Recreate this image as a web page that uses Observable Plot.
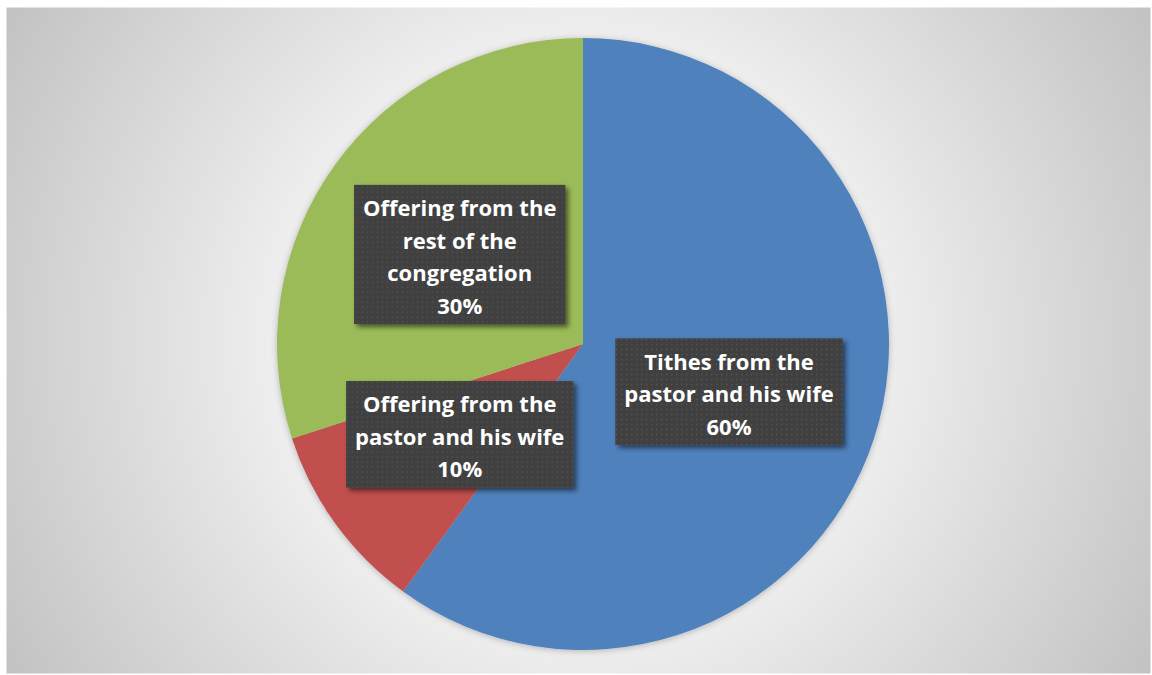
<!DOCTYPE html>
<html>
<head>
<meta charset="utf-8">
<script src="https://cdn.jsdelivr.net/npm/d3@7"></script>
<script src="https://cdn.jsdelivr.net/npm/@observablehq/plot@0.6"></script>
<style>
  html, body { margin: 0; padding: 0; background: #ffffff; }
  #chart { width: 1152px; height: 675px; }
</style>
</head>
<body>
<div id="chart"></div>
<script>
// ---- Data ----
const categories = [
  "Tithes from the pastor and his wife",
  "Offering from the pastor and his wife",
  "Offering from the rest of the congregation"
];
const shares = [60, 10, 30];
const sliceColors = ["#4F81BD", "#C0504D", "#9BBB59"];
// wrapped label text as shown in the chart
const labelText = [
  "Tithes from the\npastor and his wife",
  "Offering from the\npastor and his wife",
  "Offering from the\nrest of the\ncongregation"
];

// ---- Build table ----
const data = categories.map((c, i) => ({category: c, share: shares[i], color: sliceColors[i], text: labelText[i]}));
const arcs = d3.pie().sort(null).value(d => d.share)(data);
const labels = arcs.map(a => {
  const mid = (a.startAngle + a.endAngle) / 2;
  return {x: 0.5 * Math.sin(mid), y: 0.5 * Math.cos(mid), label: a.data.text + "\n" + a.data.share + "%"};
});

const W = 1152, H = 675;
const cx = 583, cy = 344, R = 306;
const FS = 22, LH = 1.48;

const pieMark = (index, scales) => {
  const sx = scales && typeof scales.x === "function" ? scales.x : (v => cx + v * R);
  const sy = scales && typeof scales.y === "function" ? scales.y : (v => cy - v * R);
  const x0 = sx(0), y0 = sy(0), r = Math.abs(sx(1) - sx(0));
  const g = d3.create("svg:g")
    .attr("transform", `translate(${x0},${y0})`)
    .attr("filter", "url(#pieShadow)");
  g.selectAll("path").data(arcs).join("path")
    .attr("d", d3.arc().innerRadius(0).outerRadius(r))
    .attr("fill", d => d.data.color);
  return g.node();
};

const plot = Plot.plot({
  width: W,
  height: H,
  margin: 0,
  x: {domain: [-1, 1], range: [cx - R, cx + R], axis: null},
  y: {domain: [-1, 1], range: [cy + R, cy - R], axis: null},
  style: {background: "transparent", overflow: "visible"},
  marks: [
    Plot.frame({fill: "url(#bgGrad)", stroke: "none", insetLeft: 6, insetTop: 7, insetRight: 2, insetBottom: 2}),
    pieMark,
    Plot.text(labels, {
      x: "x", y: "y", text: "label",
      fill: "#ffffff",
      fontFamily: "'Open Sans', sans-serif",
      fontWeight: "bold",
      fontSize: FS,
      lineHeight: LH,
      textAnchor: "middle",
      lineAnchor: "middle"
    })
  ]
});

document.getElementById("chart").appendChild(plot);

// ---- Defs: gradient, texture, shadows ----
const svg = d3.select(plot);
const defs = svg.insert("defs", ":first-child");
const grad = defs.append("radialGradient").attr("id", "bgGrad")
  .attr("gradientUnits", "userSpaceOnUse")
  .attr("cx", 578).attr("cy", 340).attr("r", 662);
grad.append("stop").attr("offset", 0).attr("stop-color", "#fefefe");
grad.append("stop").attr("offset", 0.4).attr("stop-color", "#f3f3f3");
grad.append("stop").attr("offset", 1).attr("stop-color", "#c2c2c2");

const pat = defs.append("pattern").attr("id", "dots")
  .attr("patternUnits", "userSpaceOnUse").attr("width", 5).attr("height", 5);
pat.append("rect").attr("width", 5).attr("height", 5).attr("fill", "#404040");
pat.append("rect").attr("x", 2).attr("y", 2).attr("width", 1.3).attr("height", 1.3).attr("fill", "#575757");

const f1 = defs.append("filter").attr("id", "boxShadow").attr("x", "-10%").attr("y", "-10%").attr("width", "130%").attr("height", "130%");
f1.append("feDropShadow").attr("dx", 3).attr("dy", 3).attr("stdDeviation", 2.5)
  .attr("flood-color", "#000").attr("flood-opacity", 0.55);
const f2 = defs.append("filter").attr("id", "pieShadow").attr("x", "-10%").attr("y", "-10%").attr("width", "120%").attr("height", "120%");
f2.append("feDropShadow").attr("dx", 0).attr("dy", 1).attr("stdDeviation", 3)
  .attr("flood-color", "#000").attr("flood-opacity", 0.25);

// ---- Label boxes sized to text ----
const lineH = FS * LH;
plot.querySelectorAll('g[aria-label="text"] text').forEach(t => {
  const bb = t.getBBox();
  const n = t.querySelectorAll("tspan").length || 1;
  const h = n * lineH + 9;
  const midY = bb.y + bb.height / 2 - 1.5;
  const rect = document.createElementNS("http://www.w3.org/2000/svg", "rect");
  const tr = t.getAttribute("transform");
  if (tr) rect.setAttribute("transform", tr);
  rect.setAttribute("x", bb.x - 9);
  rect.setAttribute("width", bb.width + 18);
  rect.setAttribute("y", midY - h / 2);
  rect.setAttribute("height", h);
  rect.setAttribute("fill", "url(#dots)");
  rect.setAttribute("filter", "url(#boxShadow)");
  t.parentNode.insertBefore(rect, t);
});
</script>
</body>
</html>
